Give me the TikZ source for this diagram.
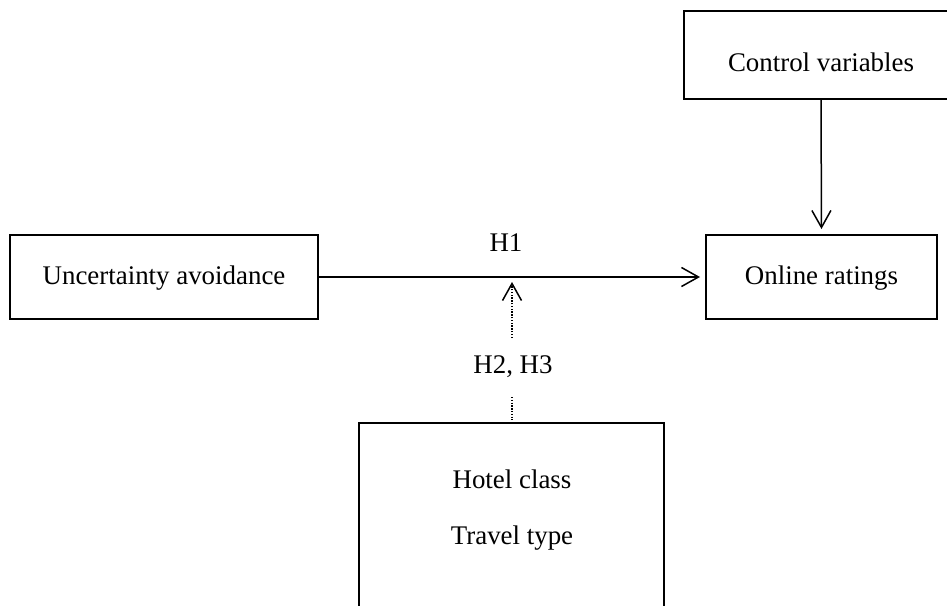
\documentclass[tikz,border=0pt]{standalone}
\usepackage{fontspec}
\setmainfont{Liberation Serif}
\usetikzlibrary{arrows.meta}
\begin{document}
\begin{tikzpicture}[x=0.5pt,y=-0.5pt,
  box/.style={draw, line width=1pt, inner sep=0pt},
  lbl/.style={inner sep=0pt, font=\fontsize{13.45}{16}\selectfont},
  arr/.style={line width=0.75pt, -{Straight Barb[length=8.5pt,width=9.5pt,line width=0.75pt]}},
  dotarr/.style={line width=0.75pt, dash pattern=on 0.7pt off 0.7pt, -{Straight Barb[length=8.5pt,width=9.5pt,line width=0.75pt]}},
  dotline/.style={line width=0.75pt, dash pattern=on 0.7pt off 0.7pt}]
\useasboundingbox (0,0) rectangle (947,605);
\clip (0,0) rectangle (947,605);
% boxes
\node[box, minimum width=274*0.5pt, minimum height=88*0.5pt] (ctrl) at (821,55) {};
\node[lbl] (ctrltxt) at (821,62) {Control variables};
\node[box, minimum width=308*0.5pt, minimum height=84*0.5pt] (ua) at (164,277) {};
\node[lbl] (uatxt) at (164,278) {Uncertainty avoidance};
\node[box, minimum width=231*0.5pt, minimum height=84*0.5pt] (or) at (821.5,277) {};
\node[lbl] (ortxt) at (821.5,278) {Online ratings};
\node[box, minimum width=305*0.5pt, minimum height=217*0.5pt] (mod) at (511.5,531.5) {};
\node[lbl] (hc) at (512,479) {Hotel class};
\node[lbl] (tt) at (512,538) {Travel type};
% labels
\node[lbl] (h1) at (506,243) {H1};
\node[lbl] (h23) at (513,367) {H2, H3};
% connectors
\draw[arr, shorten >=2.5pt] (ua.east) -- (or.west);
\draw[arr, shorten >=2.5pt] (ctrl.south) -- (or.north);
\coordinate (d1) at (512,338);
\coordinate (d0) at (512,282);
\draw[dotarr] (d1) -- (d0);
\coordinate (d2) at (512,397);
\coordinate (d3) at (512,420);
\draw[dotline] (d2) -- (d3);
\end{tikzpicture}
\end{document}
